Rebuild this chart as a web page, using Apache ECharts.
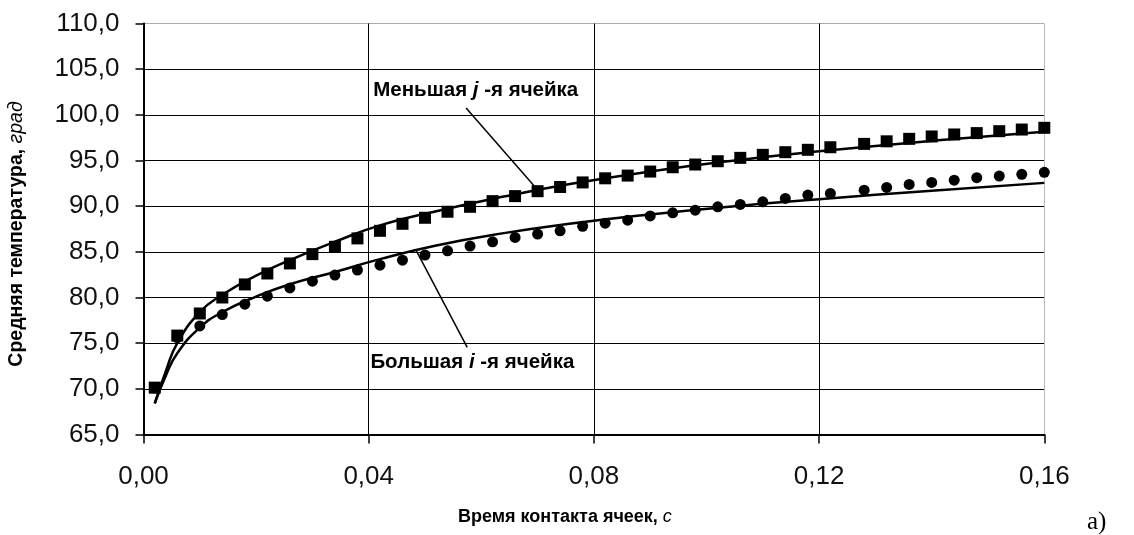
<!DOCTYPE html>
<html>
<head>
<meta charset="utf-8">
<script src="https://cdn.jsdelivr.net/npm/echarts@6/dist/echarts.min.js"></script>
<style>
html,body{margin:0;padding:0;background:#fff;}
#c{width:1134px;height:535px;}
</style>
</head>
<body>
<div id="c"></div>
<script>
// ---- data ----
const timeX = [0.002,0.006,0.010,0.014,0.018,0.022,0.026,0.030,0.034,0.038,
  0.042,0.046,0.050,0.054,0.058,0.062,0.066,0.070,0.074,0.078,
  0.082,0.086,0.090,0.094,0.098,0.102,0.106,0.110,0.114,0.118,
  0.122,0.128,0.132,0.136,0.140,0.144,0.148,0.152,0.156,0.160];
const smallCell = [70.13,75.83,78.25,80.0,81.43,82.63,83.73,84.75,85.55,86.47,
  87.3,88.07,88.73,89.39,89.93,90.55,91.10,91.64,92.1,92.6,
  93.05,93.35,93.79,94.26,94.56,94.92,95.29,95.62,95.91,96.17,
  96.45,96.82,97.1,97.37,97.63,97.85,98.0,98.21,98.39,98.58];
const bigCell = [70.1,75.6,76.89,78.13,79.27,80.14,81.05,81.79,82.45,83.0,
  83.54,84.09,84.64,85.11,85.63,86.10,86.58,86.94,87.3,87.8,
  88.14,88.46,88.93,89.27,89.56,89.93,90.19,90.47,90.85,91.21,
  91.39,91.75,92.05,92.38,92.6,92.85,93.12,93.3,93.49,93.70];
const fitX = [0.002,0.004,0.006,0.010,0.014,0.020,0.026,0.034,0.042,
  0.052,0.064,0.076,0.090,0.105,0.120,0.140,0.160];
const fitSmall = [68.4,72.0,75.0,78.4,80.3,82.4,84.1,86.1,87.9,
  89.45,91.05,92.45,93.8,95.0,96.0,97.15,98.15];
const fitBig = [68.4,71.5,73.9,76.7,78.4,80.1,81.45,82.8,84.2,
  85.7,87.05,88.1,89.1,90.0,90.75,91.7,92.55];
const yTitle = 'Средняя температура, ';
const yTitleUnit = 'град';
const xTitle = 'Время контакта ячеек, ';
const xTitleUnit = 'с';
// annotation anchors (data coords)
const leaderSmall = [[0.0573,100.76],[0.0694,92.2]];
const leaderBig = [[0.0484,85.19],[0.0575,74.55]];
const labelSmallAt = [0.0408,102.4];
const labelBigAt = [0.0403,72.58];

const zip = (xs, ys) => xs.map((x, i) => [x, ys[i]]);
const comma = (v, d) => v.toFixed(d).replace('.', ',');

const chart = echarts.init(document.getElementById('c'), null, {renderer: 'canvas'});
const lblFont = 'Liberation Sans, Arial, sans-serif';

const option = {
  animation: false,
  backgroundColor: '#fff',
  grid: {left: 143.5, right: 89.7, top: 23.5, bottom: 100.5, containLabel: false},
  xAxis: {
    type: 'value', min: 0, max: 0.16, interval: 0.04,
    axisLine: {show: true, onZero: false, lineStyle: {color: '#000', width: 2}},
    axisTick: {show: true, length: 9, lineStyle: {color: '#000', width: 1.5}},
    axisLabel: {margin: 29, fontSize: 26, color: '#111', fontFamily: lblFont,
      formatter: v => comma(v, 2)},
    splitLine: {show: true, lineStyle: {color: ['#000','#000','#000','#000','#bbb'], width: 1}}
  },
  yAxis: {
    type: 'value', min: 65, max: 110, interval: 5,
    axisLine: {show: true, onZero: false, lineStyle: {color: '#000', width: 2}},
    axisTick: {show: true, length: 8, lineStyle: {color: '#000', width: 1.5}},
    axisLabel: {margin: 24, fontSize: 26, color: '#111', fontFamily: lblFont,
      formatter: v => comma(v, 1)},
    splitLine: {show: true, lineStyle: {color: ['#000','#000','#000','#000','#000','#000','#000','#000','#000','#aaa'], width: 1}}
  },
  series: [
    {
      type: 'line', data: zip(fitX, fitBig), smooth: 0.5,
      showSymbol: false, lineStyle: {color: '#000', width: 2.5}, z: 2,
      markLine: {silent: true, symbol: ['none','none'], label: {show: false},
        lineStyle: {color: '#000', width: 1.5, type: 'solid'},
        data: [[{coord: leaderBig[0]}, {coord: leaderBig[1]}]]}
    },
    {
      type: 'line', data: zip(fitX, fitSmall), smooth: 0.5,
      showSymbol: false, lineStyle: {color: '#000', width: 2.5}, z: 2,
      markLine: {silent: true, symbol: ['none','none'], label: {show: false},
        lineStyle: {color: '#000', width: 1.5, type: 'solid'},
        data: [[{coord: leaderSmall[0]}, {coord: leaderSmall[1]}]]}
    },
    {
      type: 'scatter', data: zip(timeX, bigCell), symbol: 'circle', symbolSize: 11,
      itemStyle: {color: '#000', opacity: 1}, z: 3
    },
    {
      type: 'scatter', data: zip(timeX, smallCell), symbol: 'rect', symbolSize: 12,
      itemStyle: {color: '#000', opacity: 1}, z: 4
    }
  ]
};
chart.setOption(option);

const pS = chart.convertToPixel({gridIndex: 0}, labelSmallAt);
const pB = chart.convertToPixel({gridIndex: 0}, labelBigAt);
const titleRich = {
  b: {fontFamily: lblFont, fontWeight: 'bold', fontSize: 18, fill: '#000'},
  i: {fontFamily: lblFont, fontStyle: 'italic', fontSize: 18, fill: '#000'},
  yb: {fontFamily: lblFont, fontWeight: 'bold', fontSize: 19.5, fill: '#000'},
  yi: {fontFamily: lblFont, fontStyle: 'italic', fontSize: 19.5, fill: '#000'},
  bi: {fontFamily: lblFont, fontWeight: 'bold', fontStyle: 'italic', fontSize: 20.5, fill: '#000'},
  a: {fontFamily: lblFont, fontWeight: 'bold', fontSize: 20.5, fill: '#000'}
};
chart.setOption({
  graphic: [
    {type: 'text', left: pS[0], top: pS[1] - 13, z: 10,
      style: {text: '{a|Меньшая }{bi|j}{a| -я ячейка}', rich: titleRich}},
    {type: 'text', left: pB[0], top: pB[1] - 13, z: 10,
      style: {text: '{a|Большая }{bi|i}{a| -я ячейка}', rich: titleRich}},
    {type: 'text', x: 17, y: 234, rotation: Math.PI / 2, z: 10,
      style: {text: '{yb|' + yTitle + '}{yi|' + yTitleUnit + '}', rich: titleRich,
        align: 'center', verticalAlign: 'middle'}},
    {type: 'text', x: 458, y: 517, z: 10,
      style: {text: '{b|' + xTitle + '}{i|' + xTitleUnit + '}', rich: titleRich,
        align: 'left', verticalAlign: 'middle'}},
    {type: 'text', x: 1087, y: 535, z: 10,
      style: {text: 'a)', fontFamily: 'Liberation Serif, Times New Roman, serif', fontSize: 25,
        fill: '#000', align: 'left', verticalAlign: 'bottom'}}
  ]
});
</script>
</body>
</html>
